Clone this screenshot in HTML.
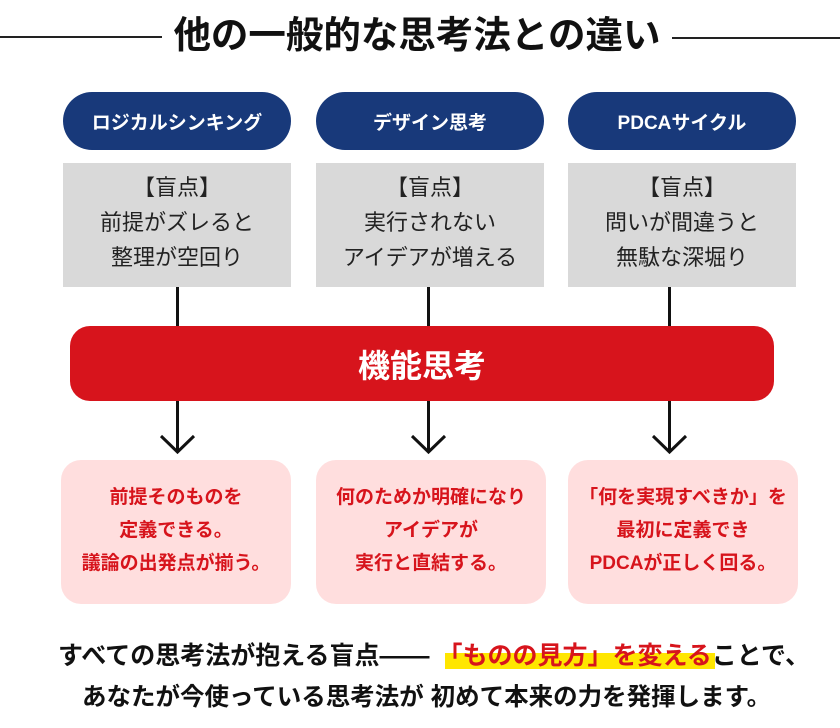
<!DOCTYPE html>
<html><head><meta charset="utf-8"><style>
body{margin:0;width:840px;height:728px;background:#fff;position:relative;overflow:hidden;font-family:"Liberation Sans","Noto Sans CJK JP",sans-serif;}
.a{position:absolute;box-sizing:border-box;}
.pill{background:#18397a;border-radius:29px;color:#fff;font-weight:bold;font-size:19px;display:flex;align-items:center;justify-content:center;top:92px;height:58px;width:228px;}
.gray{background:#d9d9d9;top:163px;height:124px;width:228px;text-align:center;font-size:22px;line-height:35px;padding-top:7px;color:#222;}
.vl{width:3px;background:#111;top:287px;height:39px;}
.pink{background:#ffdede;border-radius:20px;top:460px;height:144px;width:230px;text-align:center;color:#d7141c;font-weight:bold;font-size:19px;line-height:33px;padding-top:21px;white-space:nowrap;}
.bt{font-weight:bold;font-size:25px;color:#111;white-space:nowrap;}
</style></head><body>
<div class="a" style="left:0;top:36px;width:162px;height:1.5px;background:#222"></div>
<div class="a" style="left:672px;top:37px;width:168px;height:1.5px;background:#222"></div>
<div class="a" style="left:162px;top:10px;width:510px;text-align:center;font-size:37.5px;font-weight:bold;color:#111;line-height:50px;white-space:nowrap">他の一般的な思考法との違い</div>

<div class="a pill" style="left:63px">ロジカルシンキング</div>
<div class="a pill" style="left:316px">デザイン思考</div>
<div class="a pill" style="left:568px">PDCAサイクル</div>

<div class="a gray" style="left:63px">【盲点】<br>前提がズレると<br>整理が空回り</div>
<div class="a gray" style="left:316px">【盲点】<br>実行されない<br>アイデアが増える</div>
<div class="a gray" style="left:568px">【盲点】<br>問いが間違うと<br>無駄な深堀り</div>

<div class="a vl" style="left:176px"></div>
<div class="a vl" style="left:427px"></div>
<div class="a vl" style="left:668px"></div>

<div class="a" style="left:70px;top:326px;width:704px;height:75px;background:#d7141c;border-radius:20px;color:#fff;font-weight:bold;font-size:32px;display:flex;align-items:center;justify-content:center">機能思考</div>

<svg class="a" style="left:0;top:400px" width="840" height="60">
<g stroke="#111" stroke-width="3" fill="none">
<path d="M177.5 1V51M161 36L177.5 52L194 36"/>
<path d="M428.5 1V51M412 36L428.5 52L445 36"/>
<path d="M669.5 1V51M653 36L669.5 52L686 36"/>
</g></svg>

<div class="a pink" style="left:61px">前提そのものを<br>定義できる。<br>議論の出発点が揃う。</div>
<div class="a pink" style="left:316px">何のためか明確になり<br>アイデアが<br>実行と直結する。</div>
<div class="a pink" style="left:568px">「何を実現すべきか」を<br>最初に定義でき<br>PDCAが正しく回る。</div>

<div class="a" style="left:445px;top:653px;width:270px;height:16px;background:#ffe600"></div>
<div class="a bt" style="left:58px;top:639px;line-height:34px">すべての思考法が抱える盲点――<span style="margin-left:8px;color:#d7141c">「ものの見方」を変える</span>ことで、</div>
<div class="a bt" style="left:82px;top:681px;line-height:34px;font-size:24.5px">あなたが今使っている思考法が 初めて本来の力を発揮します。</div>
</body></html>
